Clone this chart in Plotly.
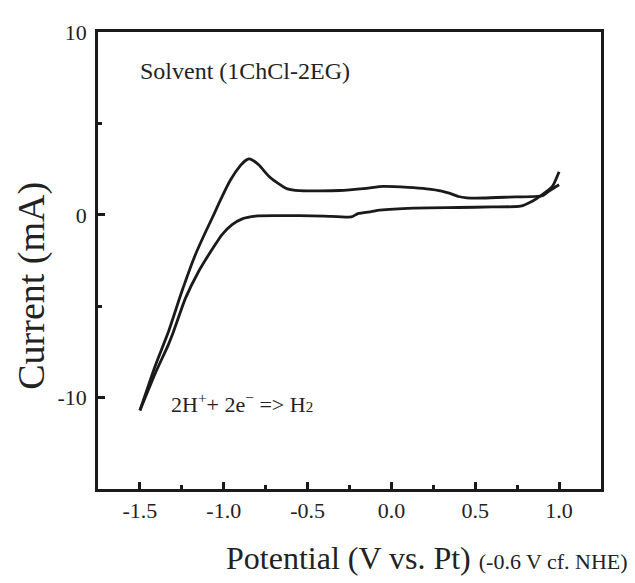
import plotly.graph_objects as go

# Cathodic (lower) branch: potential (V vs. Pt) and current (mA)
lower_v = [-1.50, -1.41, -1.33, -1.30, -1.23, -1.15, -1.07, -1.01, -0.95, -0.89, -0.81, -0.68,
           -0.55, -0.40, -0.24, -0.20, -0.12, -0.07, 0.13, 0.40, 0.60, 0.77, 0.84, 0.90, 0.96, 1.00]
lower_i = [-10.7, -8.7, -7.1, -6.4, -4.6, -3.1, -1.9, -1.08, -0.54, -0.22, -0.07, -0.05,
           -0.05, -0.07, -0.12, 0.06, 0.17, 0.25, 0.37, 0.40, 0.43, 0.47, 0.74, 1.10, 1.55, 2.36]

# Anodic (upper) branch
upper_v = [-1.50, -1.41, -1.33, -1.25, -1.17, -1.11, -1.06, -1.02, -0.96, -0.90, -0.87, -0.85,
           -0.83, -0.79, -0.73, -0.68, -0.62, -0.55, -0.31, -0.15, -0.05, 0.10, 0.21, 0.30, 0.35,
           0.40, 0.45, 0.55, 0.70, 0.90, 0.94, 1.00]
upper_i = [-10.7, -8.3, -6.4, -4.2, -2.2, -0.97, 0.0, 0.8, 1.9, 2.7, 2.97, 3.06,
           3.0, 2.72, 2.1, 1.75, 1.42, 1.32, 1.33, 1.45, 1.55, 1.50, 1.42, 1.30, 1.17,
           1.00, 0.93, 0.92, 0.97, 1.04, 1.30, 1.64]

x_ticks = [-1.5, -1.0, -0.5, 0.0, 0.5, 1.0]
x_tick_text = ["-1.5", "-1.0", "-0.5", "0.0", "0.5", "1.0"]
y_ticks = [-10, 0, 10]
y_tick_text = ["-10", "0", "10"]

FONT = "Liberation Serif, Times New Roman, serif"

fig = go.Figure()
for xs, ys in [(lower_v, lower_i), (upper_v, upper_i)]:
    fig.add_trace(go.Scatter(x=xs, y=ys, mode="lines",
                             line=dict(color="#1a1a1a", width=2.8, shape="spline", smoothing=0.5),
                             showlegend=False, hoverinfo="skip"))

axis_common = dict(showline=True, linecolor="#1a1a1a", linewidth=2.5, mirror=True,
                   ticks="inside", ticklen=7, tickwidth=2.5, tickcolor="#1a1a1a",
                   showgrid=False, zeroline=False,
                   tickfont=dict(family=FONT, size=22, color="#222"))

fig.update_xaxes(range=[-1.75, 1.25], tickvals=x_ticks, ticktext=x_tick_text,
                 minor=dict(ticks="inside", ticklen=4, tickwidth=2.5, tickcolor="#1a1a1a",
                            dtick=0.25, tick0=-1.75),
                 ticklabelstandoff=0, **axis_common)
fig.update_yaxes(range=[-15, 10], tickvals=y_ticks, ticktext=y_tick_text,
                 minor=dict(ticks="inside", ticklen=4, tickwidth=2.5, tickcolor="#1a1a1a",
                            dtick=5, tick0=0),
                 ticklabelstandoff=4, **axis_common)

fig.add_annotation(xref="paper", yref="paper", x=0.079, y=0.914, xanchor="left", yanchor="middle",
                   text="Solvent (1ChCl-2EG)", showarrow=False,
                   font=dict(family=FONT, size=24, color="#222"))
fig.add_annotation(xref="paper", yref="paper", x=0.141, y=0.188, xanchor="left", yanchor="middle",
                   text="2H<sup>+</sup>+ 2e<sup>\u2212</sup> => H<span style='font-size:15px'>2</span>",
                   showarrow=False, font=dict(family=FONT, size=22, color="#222"))
fig.add_annotation(xref="paper", yref="paper", x=0.250, y=-0.152, xanchor="left", yanchor="middle",
                   text="Potential (V vs. Pt) <span style='font-size:22px'>(-0.6 V cf. NHE)</span>",
                   showarrow=False, font=dict(family=FONT, size=32, color="#222"))
fig.add_annotation(xref="paper", yref="paper", x=-0.131, y=0.445, xanchor="center", yanchor="middle",
                   textangle=-90, text="Current (mA)", showarrow=False,
                   font=dict(family=FONT, size=38, color="#222"))

fig.update_layout(width=635, height=583, margin=dict(l=90, r=42, t=18, b=102),
                  paper_bgcolor="white", plot_bgcolor="white",
                  font=dict(family=FONT, color="#222"))

fig.write_html("out.html")
